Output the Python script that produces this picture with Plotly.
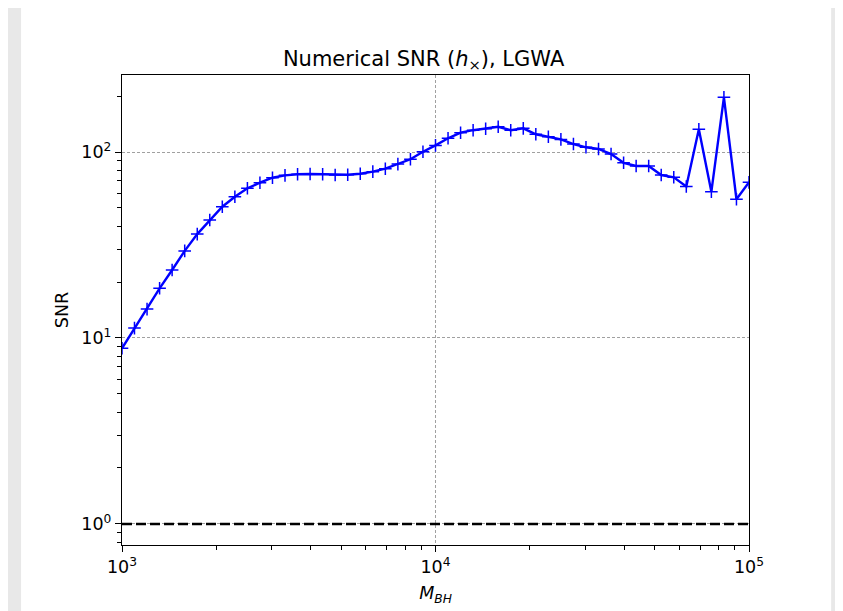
import plotly.graph_objects as go

# black hole mass grid (log spaced) and numerical SNR
m_bh = [
    1000, 1096, 1202, 1318, 1445, 1585, 1738, 1905, 2089, 2291,
    2512, 2754, 3020, 3311, 3631, 3981, 4365, 4786, 5248, 5754,
    6310, 6918, 7586, 8318, 9120, 10000, 10965, 12023, 13183, 14454,
    15849, 17378, 19055, 20893, 22909, 25119, 27542, 30200, 33113, 36308,
    39811, 43652, 47863, 52481, 57544, 63096, 69183, 75858, 83176, 91201,
    100000,
]
snr = [
    8.8, 11.3, 14.3, 18.5, 23.2, 29.4, 36.2, 43.1, 50.8, 57.5,
    63.8, 68.4, 72.7, 74.9, 75.9, 76.2, 75.9, 75.2, 75.5, 76.4,
    78.4, 81.3, 86.1, 91.4, 100.4, 108.5, 118.5, 127.0, 131.0, 133.4,
    136.7, 131.0, 134.0, 124.5, 120.8, 116.9, 110.4, 106.0, 103.8, 97.5,
    87.5, 84.1, 84.1, 75.2, 73.1, 65.2, 132.5, 61.2, 196.8, 55.7,
    68.7,
]
threshold = 1.0

x_major = [1e3, 1e4, 1e5]
x_major_text = ["10<sup>3</sup>", "10<sup>4</sup>", "10<sup>5</sup>"]
x_minor = [k * 10**e for e in (3, 4) for k in range(2, 10)]
y_major = [1, 10, 100]
y_major_text = ["10<sup>0</sup>", "10<sup>1</sup>", "10<sup>2</sup>"]
y_minor = [0.8, 0.9] + [k * 10**e for e in (0, 1) for k in range(2, 10)] + [200]

fig = go.Figure()

fig.add_trace(
    go.Scatter(
        x=m_bh,
        y=snr,
        mode="lines+markers",
        line=dict(color="#0000ff", width=2.4),
        marker=dict(
            symbol="cross-thin-open",
            size=9,
            color="#0000ff",
            line=dict(color="#0000ff", width=1.5),
        ),
        showlegend=False,
    )
)

fig.add_trace(
    go.Scatter(
        x=[m_bh[0], m_bh[-1]],
        y=[threshold, threshold],
        mode="lines",
        line=dict(color="black", width=2.6, dash="10px,4px"),
        showlegend=False,
    )
)

font = "DejaVu Sans"
axis_common = dict(
    type="log",
    showline=True,
    mirror=True,
    linecolor="black",
    linewidth=1.2,
    ticks="outside",
    ticklen=6,
    tickwidth=1.1,
    tickcolor="black",
    showgrid=True,
    gridcolor="#a0a0a0",
    gridwidth=0.8,
    griddash="3px,2px",
    zeroline=False,
    tickfont=dict(family=font, size=17.5, color="black"),
    tickmode="array",
)

fig.update_xaxes(
    **axis_common,
    range=[3, 5],
    tickvals=x_major,
    ticktext=x_major_text,
    minor=dict(tickmode="array", tickvals=x_minor, ticks="outside",
               ticklen=3.5, tickwidth=0.9, tickcolor="black", showgrid=False),
    title=dict(text="<i>M<sub>BH</sub></i>",
               font=dict(family=font, size=17.5, color="black"), standoff=10),
)
fig.update_yaxes(
    **axis_common,
    range=[-0.113, 2.414],
    tickvals=y_major,
    ticktext=y_major_text,
    minor=dict(tickmode="array", tickvals=y_minor, ticks="outside",
               ticklen=3.5, tickwidth=0.9, tickcolor="black", showgrid=False),
    title=dict(text="SNR", font=dict(family=font, size=17.5, color="black"),
               standoff=8),
)

# white figure canvas sitting on the grey page
fig.add_shape(
    type="rect", xref="paper", yref="paper",
    x0=-0.161, x1=1.131, y0=-0.2, y1=1.2,
    fillcolor="white", line=dict(width=0), layer="below",
)

# page body has an 8px margin, so the figure is 8px smaller than the window
fig.update_layout(
    width=835,
    height=603,
    margin=dict(l=114, r=94, t=67, b=58),
    paper_bgcolor="#e8e8e8",
    plot_bgcolor="white",
    title=dict(
        text="Numerical SNR (<i>h</i><sub>×</sub>), LGWA",
        font=dict(family=font, size=21, color="black"),
        x=0.481, xref="paper", xanchor="center",
        y=1, yref="paper", yanchor="bottom", pad=dict(b=9),
    ),
)

fig.write_html("out.html")
